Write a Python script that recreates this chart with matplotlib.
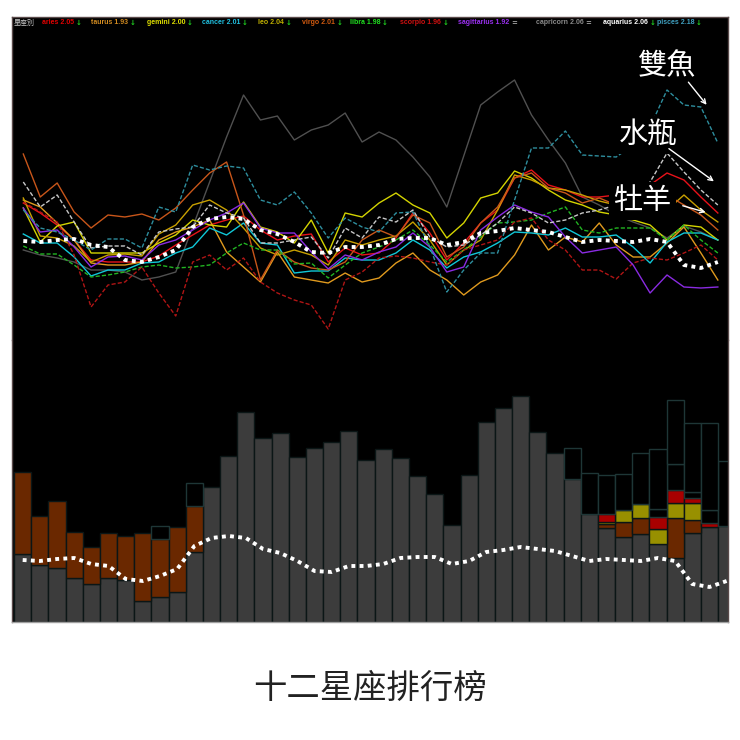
import numpy as np
import matplotlib
matplotlib.use("Agg")
import matplotlib.pyplot as plt

plt.rcParams['font.family'] = ['Noto Sans CJK TC', 'DejaVu Sans']

# ---- legend data ----------------------------------------------------------
signs = ["aries", "taurus", "gemini", "cancer", "leo", "virgo",
         "libra", "scorpio", "sagittarius", "capricorn", "aquarius", "pisces"]
scores = [2.05, 1.93, 2.00, 2.01, 2.04, 2.01, 1.98, 1.96, 1.92, 2.06, 2.06, 2.18]
trends = ["↓", "↓", "↓", "↓", "↓", "↓", "↓", "↓", "=", "=", "↓", "↓"]
legend_prefix = "星座別"
title = "十二星座排行榜"
callouts = ["雙魚", "水瓶", "牡羊"]

# ---- ranking position per day (smaller value = higher on the chart) --------
aries = [203, 213, 225, 240, 260, 262, 262, 262, 256, 245, 235, 225, 220, 216,
         230, 240, 236, 234, 262, 248, 255, 253, 238, 213, 233, 260, 243, 223,
         210, 178, 170, 185, 190, 197, 197, 195, 190, 185, 173, 180, 197, 213]
taurus = [200, 207, 223, 240, 263, 265, 265, 262, 240, 232, 227, 220, 252, 267,
          282, 252, 277, 280, 283, 273, 282, 278, 263, 253, 270, 280, 295, 282,
          275, 255, 225, 250, 237, 242, 223, 245, 257, 257, 243, 227, 253, 280]
gemini = [208, 242, 226, 222, 253, 253, 253, 253, 243, 235, 220, 225, 227, 202,
          227, 232, 243, 220, 253, 213, 217, 203, 193, 205, 213, 238, 223, 198,
          193, 171, 178, 190, 200, 205, 212, 215, 220, 225, 240, 225, 227, 240]
cancer = [234, 243, 243, 257, 276, 270, 270, 263, 262, 253, 247, 228, 235, 223,
          243, 245, 273, 271, 271, 258, 260, 260, 253, 240, 250, 268, 257, 252,
          243, 232, 233, 235, 228, 237, 237, 235, 247, 263, 242, 233, 233, 240]
leo = [198, 236, 238, 246, 262, 255, 254, 256, 234, 225, 205, 200, 210, 228,
       248, 255, 250, 255, 265, 240, 245, 240, 236, 222, 240, 265, 250, 240,
       210, 175, 180, 188, 190, 195, 201, 205, 210, 208, 210, 195, 210, 222]
virgo = [154, 197, 183, 212, 228, 215, 217, 214, 220, 208, 190, 173, 162, 215,
         280, 250, 262, 268, 270, 262, 240, 230, 237, 215, 223, 257, 247, 223,
         207, 178, 173, 188, 193, 203, 198, 205, 210, 200, 195, 205, 215, 230]
libra = [246, 254, 254, 265, 277, 275, 272, 267, 265, 268, 267, 265, 253, 243,
         250, 250, 264, 263, 278, 265, 253, 247, 240, 230, 245, 262, 250, 237,
         223, 222, 220, 213, 207, 230, 233, 228, 228, 228, 240, 225, 240, 253]
scorpio = [202, 212, 222, 255, 307, 285, 282, 267, 293, 316, 262, 255, 270, 258,
           282, 293, 300, 305, 329, 280, 272, 258, 256, 258, 262, 265, 250, 245,
           240, 222, 218, 240, 250, 270, 270, 279, 263, 258, 260, 253, 245, 260]
sagittarius = [208, 232, 230, 247, 267, 257, 256, 260, 245, 240, 230, 220, 213, 203,
               228, 233, 233, 252, 269, 255, 260, 252, 247, 233, 247, 272, 267, 230,
               217, 205, 212, 217, 237, 253, 250, 247, 265, 293, 275, 287, 288, 287]
capricorn = [250, 255, 258, 262, 270, 270, 272, 280, 277, 272, 227, 182, 137, 95,
             120, 116, 140, 130, 125, 113, 142, 132, 140, 157, 177, 207, 156, 105,
             92, 80, 115, 140, 163, 197, 205, 215, 222, 228, 238, 226, 232, 240]
aquarius = [182, 207, 195, 222, 248, 246, 246, 255, 232, 229, 227, 205, 213, 218,
            243, 243, 240, 237, 258, 228, 238, 217, 222, 210, 237, 247, 245, 235,
            223, 207, 213, 223, 220, 213, 210, 205, 195, 182, 153, 172, 190, 205]
pisces = [210, 228, 232, 240, 250, 239, 239, 248, 207, 212, 165, 170, 166, 168,
          200, 205, 192, 213, 238, 218, 227, 232, 213, 212, 247, 292, 270, 253,
          253, 200, 148, 148, 131, 155, 156, 157, 145, 127, 90, 105, 107, 143]
average = [241, 242, 240, 239, 245, 247, 260, 262, 257, 250, 227, 219, 217, 219,
           230, 234, 242, 252, 253, 247, 247, 245, 239, 238, 238, 245, 242, 233,
           231, 228, 230, 232, 237, 242, 240, 241, 242, 239, 242, 265, 268, 262]

# ---- stacked counts per day (bottom panel) ---------------------------------
gray = [68, 57, 54, 44, 38, 44, 42, 21, 25, 30, 70, 135, 166, 210,
        184, 189, 165, 174, 180, 191, 162, 173, 164, 146, 128, 97, 147, 200,
        214, 226, 190, 169, 143, 108, 94, 85, 88, 78, 64, 89, 95, 96]
brown = [82, 49, 67, 46, 37, 45, 44, 68, 58, 65, 46, 0, 0, 0,
         0, 0, 0, 0, 0, 0, 0, 0, 0, 0, 0, 0, 0, 0,
         0, 0, 0, 0, 0, 0, 4, 15, 16, 0, 40, 13, 0, 0]
yellow = [0, 0, 0, 0, 0, 0, 0, 0, 0, 0, 0, 0, 0, 0,
          0, 0, 0, 0, 0, 0, 0, 0, 0, 0, 0, 0, 0, 0,
          0, 0, 0, 0, 0, 0, 2, 12, 14, 15, 15, 17, 0, 0]
red = [0, 0, 0, 0, 0, 0, 0, 0, 0, 0, 0, 0, 0, 0,
       0, 0, 0, 0, 0, 0, 0, 0, 0, 0, 0, 0, 0, 0,
       0, 0, 0, 0, 0, 0, 8, 0, 0, 12, 13, 5, 4, 0]
empty_lo = [0, 0, 0, 0, 0, 0, 0, 0, 13, 0, 23, 0, 0, 0,
            0, 0, 0, 0, 0, 0, 0, 0, 0, 0, 0, 0, 0, 0,
            0, 0, 0, 0, 31, 41, 39, 36, 51, 8, 26, 6, 13, 65]
empty_hi = [0, 0, 0, 0, 0, 0, 0, 0, 0, 0, 0, 0, 0, 0,
            0, 0, 0, 0, 0, 0, 0, 0, 0, 0, 0, 0, 0, 0,
            0, 0, 0, 0, 0, 0, 0, 0, 0, 60, 64, 69, 87, 0]

series = [aries, taurus, gemini, cancer, leo, virgo,
          libra, scorpio, sagittarius, capricorn, aquarius, pisces]
days = np.arange(len(average))

line_colors = ['#e8121a', '#e09a1e', '#d4d400', '#10c8d8', '#c8a000', '#c8561a',
               '#22b422', '#b01515', '#8a2be2', '#505050', '#c8c8c8', '#2e8e9e']
line_styles = ['-', '-', '-', '-', '-', '-', '--', '--', '-', '-', '--', '--']
legend_colors = ['#e00000', '#d08a20', '#e0e000', '#20c0e0', '#c0b000', '#d05a10',
                 '#20e020', '#d01010', '#9a30f0', '#8a8a8a', '#ffffff', '#40a0c0']

# ---- figure layout (pixel boxes) -----------------------------------------
W = H = 740
fig = plt.figure(figsize=(W / 100, H / 100), dpi=100)
fig.patch.set_facecolor('white')


def box(x0, y0, x1, y1):
    return [x0 / W, 1 - y1 / H, (x1 - x0) / W, (y1 - y0) / H]


ax_top = fig.add_axes(box(12, 17, 728, 340))
ax_bot = fig.add_axes(box(12, 340, 728, 622))
for ax in (ax_top, ax_bot):
    ax.set_facecolor('black')
    ax.set_xticks([])
    ax.set_yticks([])
    for s in ax.spines.values():
        s.set_color('#5a4a4a')
        s.set_linewidth(1)
ax_top.spines['bottom'].set_visible(False)
ax_bot.spines['top'].set_visible(False)
ax_bot.spines['bottom'].set_color('#a0a0a0')

# ---- top panel: daily ranking lines --------------------------------------
ax_top.set_xlim(-0.667, 41.6)
ax_top.set_ylim(340, 17)
order = [9] + [i for i in range(12) if i != 9]
for i in order:
    ls = line_styles[i]
    kw = dict(dashes=(3, 1.5)) if ls == '--' else {}
    ax_top.plot(days, series[i], color=line_colors[i], lw=1.0, ls=ls, zorder=2, **kw)
ax_top.plot(days, average, color='white', lw=2.8, ls=(0, (1, 1.1)),
            solid_capstyle='butt', zorder=4)

# call-out labels with black backing
label_pos = [(38.0, 66), (36.85, 135), (36.55, 201)]
arrows = [((39.16, 80), (40.44, 107)), ((37.98, 147), (40.9, 183)),
          ((38.77, 205), (40.44, 213))]
for txt, (lx, ly), (a0, a1) in zip(callouts, label_pos, arrows):
    ax_top.text(lx, ly, txt, color='white', fontsize=21, ha='center', va='center',
                bbox=dict(facecolor='black', edgecolor='none', pad=3), zorder=6)
    ax_top.annotate('', xy=a1, xytext=a0,
                    arrowprops=dict(arrowstyle='->', color='white', lw=1,
                                    mutation_scale=8), zorder=7)

# ---- bottom panel: stacked bars ------------------------------------------
ax_bot.set_xlim(-0.623, 41.08)
ax_bot.set_ylim(0, 282)
stack = [(gray, '#3c3c3c', '#0b1616'), (brown, '#6a2800', '#0b1616'),
         (yellow, '#989000', '#0b1616'), (red, '#a80000', '#0b1616'),
         (empty_lo, 'black', '#1e3636'), (empty_hi, 'black', '#1e3636')]
bottom = np.zeros(len(days))
for vals, fc, ec in stack:
    vals = np.asarray(vals, dtype=float)
    m = vals > 0
    ax_bot.bar(days[m], vals[m], bottom=bottom[m], width=1.0, color=fc,
               edgecolor=ec, linewidth=1.0, zorder=2)
    bottom += vals

ax_avg = ax_bot.twinx()
ax_avg.set_ylim(303, 21)
ax_avg.set_xlim(-0.623, 41.08)
ax_avg.axis('off')
ax_avg.plot(days, average, color='white', lw=2.8, ls=(0, (1, 1.1)),
            solid_capstyle='butt', zorder=4)

# ---- legend strip ---------------------------------------------------------
renderer = fig.canvas.get_renderer()
ly = 1 - 23 / H
fig.text(14 / W, ly, legend_prefix, color='#c8c8c8', fontsize=5.0,
         va='center', ha='left')
legend_x = [41.7, 91, 146.7, 202, 258, 302, 350, 400, 458, 536, 603, 657]
for name, sc, tr, col, x in zip(signs, scores, trends, legend_colors, legend_x):
    t = fig.text(x / W, ly, f"{name} {sc:.2f}", color=col, fontsize=5.0,
                 fontweight='bold', family=['Liberation Sans', 'DejaVu Sans'],
                 va='center', ha='left')
    bb = t.get_window_extent(renderer)
    fig.text((bb.x1 + 1.5) / W, ly, tr,
             color='#20d020' if tr != '=' else '#a0a0a0', fontsize=5.0,
             fontweight='bold', family=['DejaVu Sans'], va='center', ha='left')

fig.text(0.5, 1 - 688 / H, title, ha='center', va='center', fontsize=24,
         color='#222222')

fig.savefig("out.png", dpi=100, facecolor='white')
plt.close(fig)
